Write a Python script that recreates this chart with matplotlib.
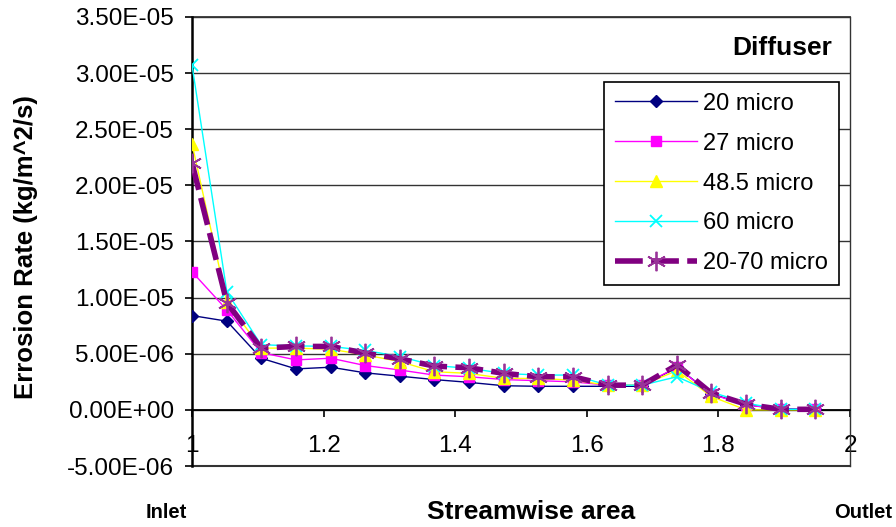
import numpy as np
import matplotlib
matplotlib.use('Agg')
import matplotlib.pyplot as plt
from matplotlib.ticker import FixedLocator, FuncFormatter

plt.rcParams['font.family'] = ['Liberation Sans', 'DejaVu Sans']

# streamwise area positions (19 stations)
area = [1.000, 1.053, 1.105, 1.158, 1.211, 1.263, 1.316, 1.368, 1.421, 1.474,
        1.526, 1.579, 1.632, 1.684, 1.737, 1.789, 1.842, 1.895, 1.947]

# erosion rate, units of 1e-6 kg/m^2/s
er_20 = [8.4, 7.9, 4.6, 3.65, 3.8, 3.3, 3.0, 2.7, 2.45, 2.15,
         2.1, 2.1, 2.1, 2.1, 3.8, 1.45, 0.45, 0.1, 0.05]
er_27 = [12.3, 8.9, 5.1, 4.45, 4.6, 3.95, 3.55, 3.1, 2.95, 2.7,
         2.6, 2.5, 2.2, 2.2, 3.8, 1.4, 0.45, 0.05, 0.05]
er_48 = [23.7, 9.6, 5.5, 5.5, 5.4, 4.9, 4.3, 3.4, 3.25, 2.8,
         2.8, 2.65, 2.2, 2.2, 3.5, 1.2, 0.0, 0.0, 0.0]
er_60 = [30.7, 10.5, 5.8, 5.7, 5.65, 5.3, 4.75, 3.95, 3.7, 3.25,
         3.1, 3.1, 2.2, 2.2, 2.95, 1.6, 0.6, 0.05, 0.05]
er_mix = [22.0, 9.55, 5.5, 5.65, 5.65, 5.05, 4.55, 3.9, 3.75, 3.25,
          2.95, 2.95, 2.2, 2.2, 4.0, 1.5, 0.5, 0.05, 0.05]

labels = ['20 micro', '27 micro', '48.5 micro', '60 micro', '20-70 micro']
yticks = [-5e-6, 0, 5e-6, 1e-5, 1.5e-5, 2e-5, 2.5e-5, 3e-5, 3.5e-5]
xticks = [1, 1.2, 1.4, 1.6, 1.8, 2]

fig = plt.figure(figsize=(8.96, 5.27), dpi=100)
ax = fig.add_axes([0.2143, 0.1157, 0.7344, 0.8523])

def e6(vals):
    return [v * 1e-6 for v in vals]

ax.plot(area, e6(er_20), color='#000080', lw=1.0, marker='D', ms=6.5,
        label=labels[0], zorder=3)
ax.plot(area, e6(er_27), color='#FF00FF', lw=1.0, marker='s', ms=7,
        label=labels[1], zorder=3)
ax.plot(area, e6(er_48), color='#FFFF00', lw=1.0, marker='^', ms=8,
        label=labels[2], zorder=3)
ax.plot(area, e6(er_60), color='#00FFFF', lw=1.0, marker='x', ms=8, mew=1.3,
        label=labels[3], zorder=3)
ax.plot(area, e6(er_mix), color='#800080', lw=4, ls=(0, (5, 1.5)),
        marker=(6, 2, 0), ms=14, mew=1.3, mec='#993399',
        label=labels[4], zorder=4)

ax.set_xlim(1, 2)
ax.set_ylim(-5e-6, 3.5e-5)

ax.yaxis.set_major_locator(FixedLocator(yticks))
ax.yaxis.set_major_formatter(FuncFormatter(lambda v, p: '{:.2E}'.format(v) if abs(v) > 1e-12 else '0.00E+00'))
ax.xaxis.set_major_locator(FixedLocator(xticks))
ax.xaxis.set_major_formatter(FuncFormatter(lambda v, p: '{:g}'.format(v)))

ax.grid(axis='y', color='#333333', lw=1.0, zorder=1)
ax.spines['bottom'].set_position(('data', 0))
ax.spines['bottom'].set_linewidth(1.3)
ax.spines['left'].set_linewidth(1.8)
ax.spines['top'].set_visible(False)
ax.spines['right'].set_linewidth(1.0)
ax.spines['right'].set_color('#333333')
ax.axhline(-5e-6, color='#333333', lw=1.5, clip_on=False)
ax.axhline(3.5e-5, color='#333333', lw=1.3, clip_on=False)

ax.tick_params(axis='y', direction='out', length=5, width=1.2, pad=8, labelsize=17.5)
ax.tick_params(axis='x', direction='out', length=5, width=1.2, pad=13, labelsize=17.5)

ax.text(0.9726, 0.930, 'Diffuser', transform=ax.transAxes, ha='right', va='center',
        fontsize=19, fontweight='bold')

leg = ax.legend(loc='upper right', bbox_to_anchor=(0.983, 0.855), fontsize=17,
                frameon=True, fancybox=False, edgecolor='black', framealpha=1,
                handlelength=3.5, handletextpad=0.25, labelspacing=0.76,
                borderpad=0.45, borderaxespad=0)
leg.get_frame().set_linewidth(1.2)

fig.text(0.029, 0.532, 'Errosion Rate (kg/m^2/s)', rotation=90, ha='center', va='center',
         fontsize=18.5, fontweight='bold')
fig.text(0.593, 0.028, 'Streamwise area', ha='center', va='center',
         fontsize=19, fontweight='bold')
fig.text(0.185, 0.028, 'Inlet', ha='center', va='center', fontsize=14.5, fontweight='bold')
fig.text(0.963, 0.028, 'Outlet', ha='center', va='center', fontsize=14.5, fontweight='bold')

fig.savefig('out.png', dpi=100)
